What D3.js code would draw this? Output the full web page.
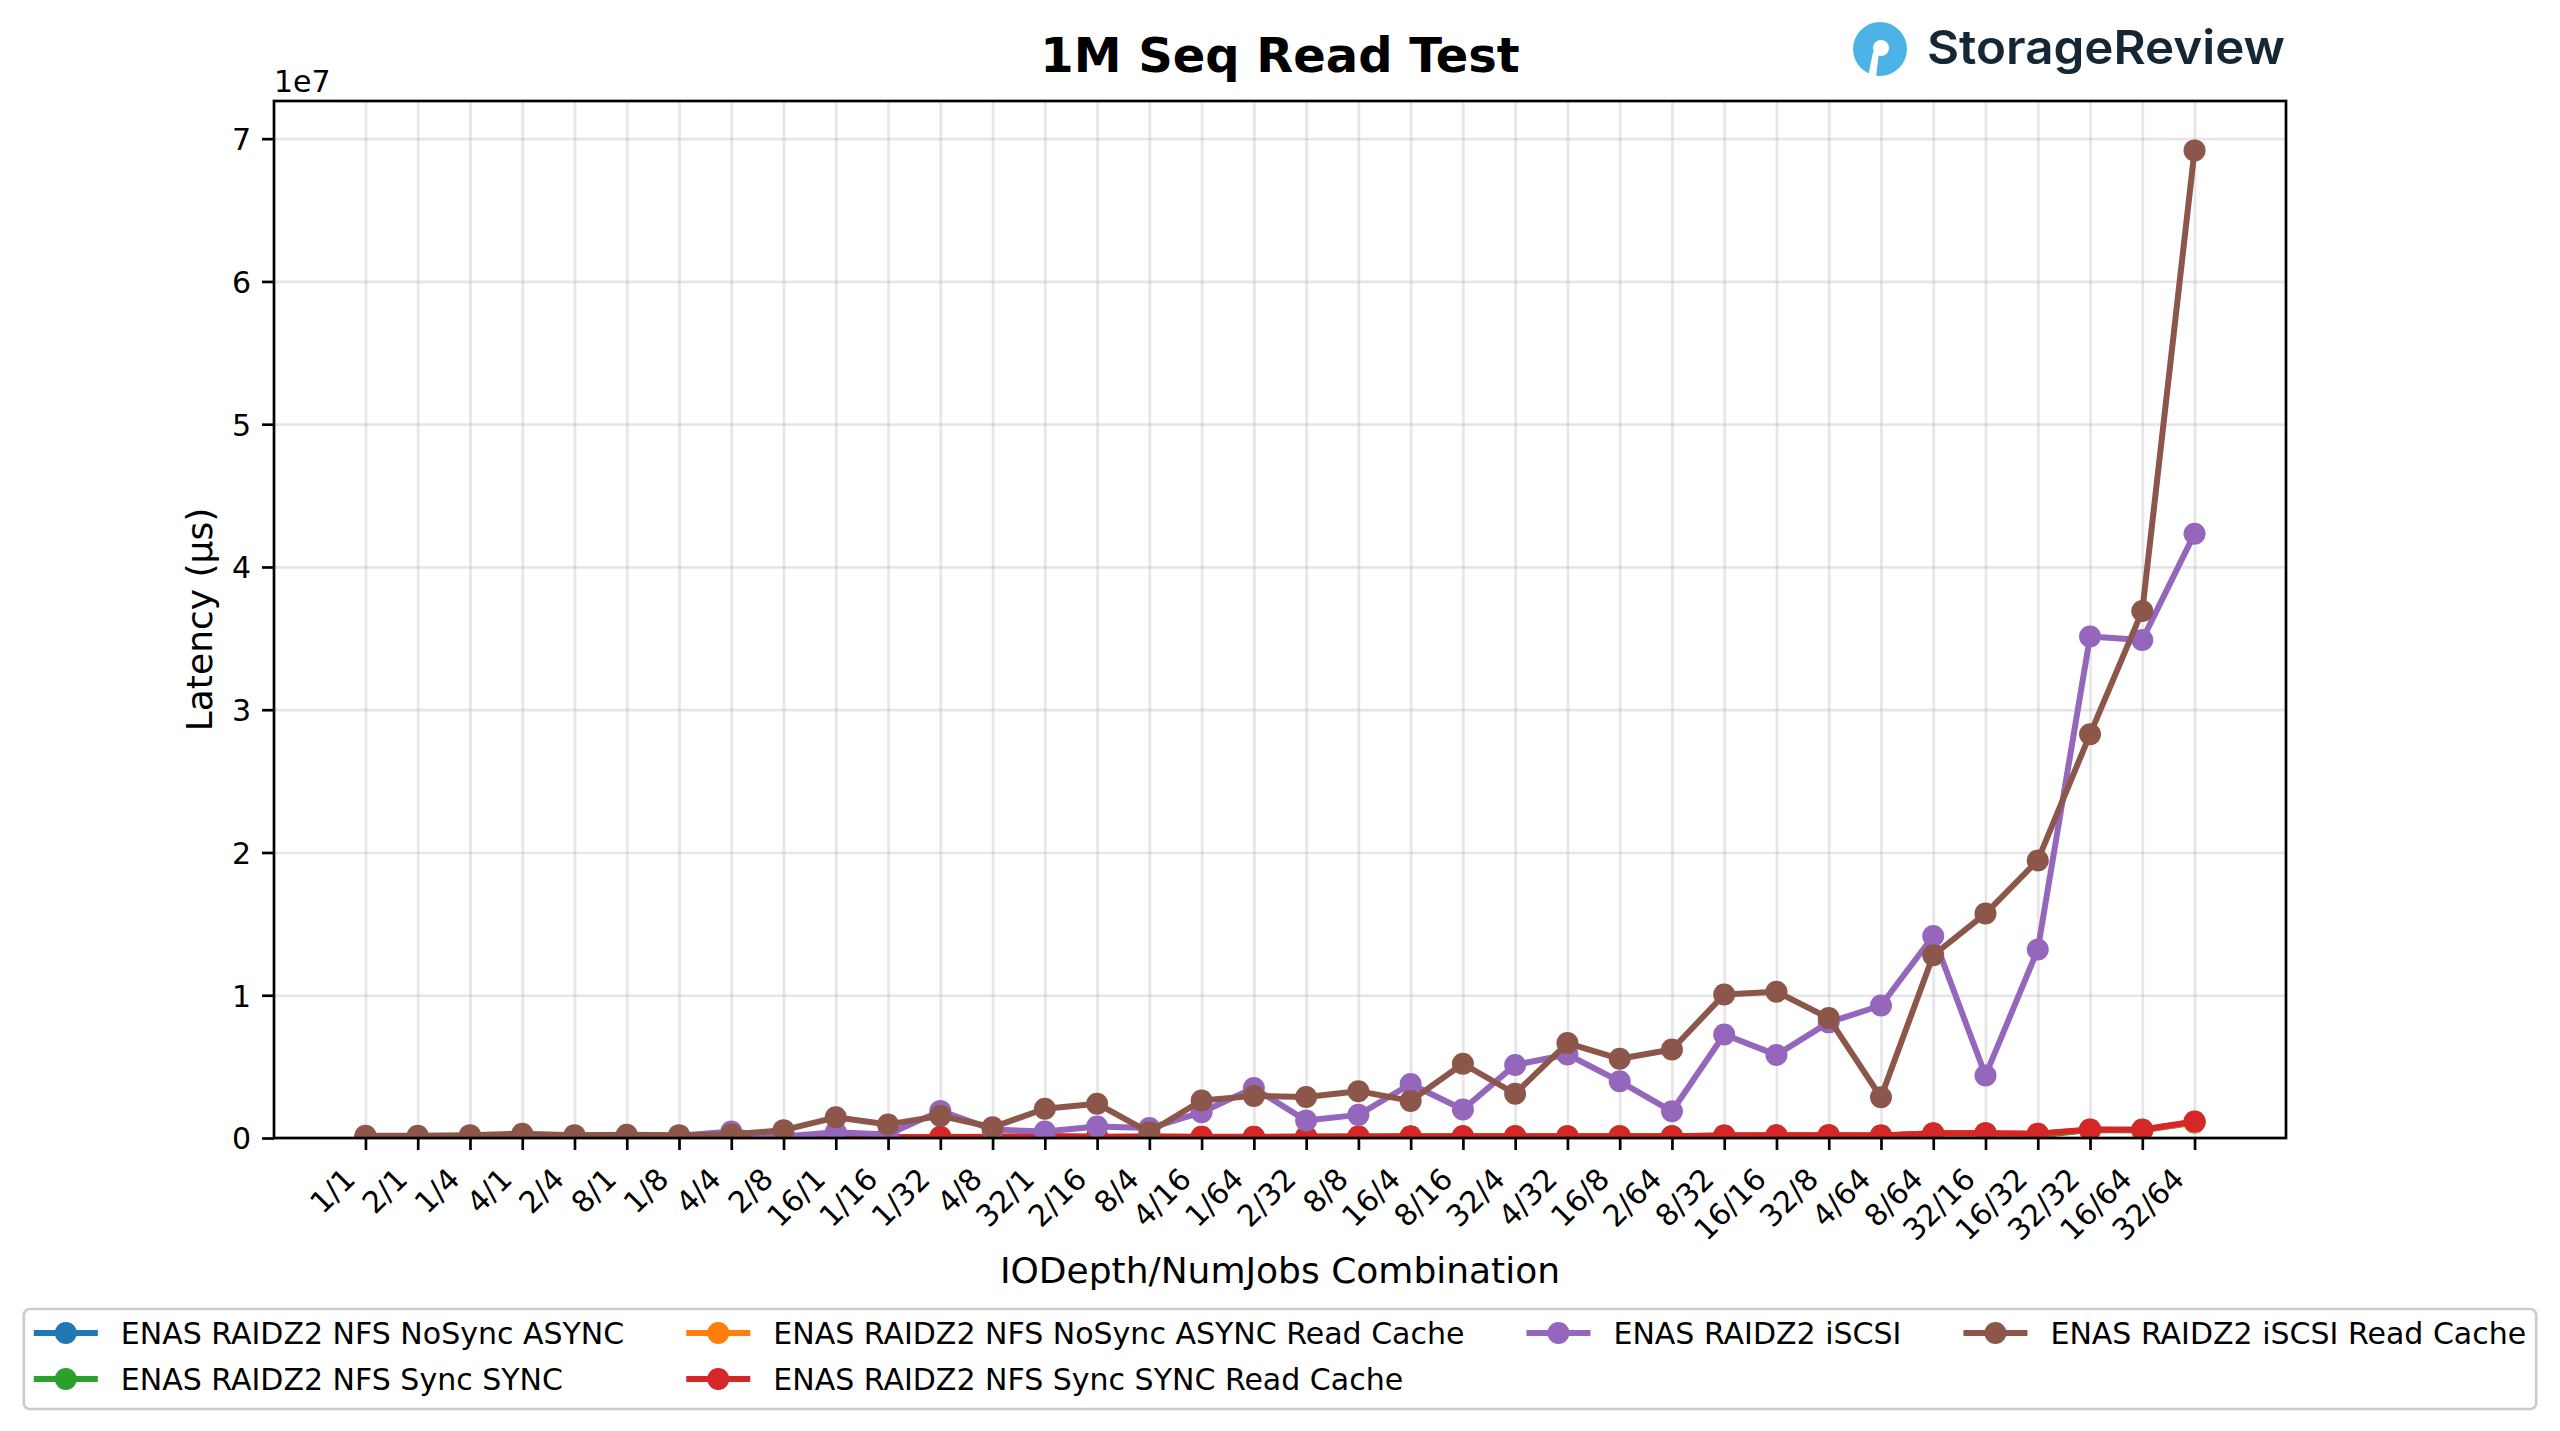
<!DOCTYPE html>
<html><head><meta charset="utf-8">
<script src="https://cdn.jsdelivr.net/npm/d3@7"></script>
<style>body{margin:0;background:#fff}svg{display:block}</style>
</head><body>
<script>
// ---------------- data ----------------
const categories = ["1/1","2/1","1/4","4/1","2/4","8/1","1/8","4/4","2/8","16/1","1/16","1/32","4/8","32/1","2/16","8/4","4/16","1/64","2/32","8/8","16/4","8/16","32/4","4/32","16/8","2/64","8/32","16/16","32/8","4/64","8/64","32/16","16/32","32/32","16/64","32/64"];

const seriesNames = [
  "ENAS RAIDZ2 NFS NoSync ASYNC",
  "ENAS RAIDZ2 NFS Sync SYNC",
  "ENAS RAIDZ2 NFS NoSync ASYNC Read Cache",
  "ENAS RAIDZ2 NFS Sync SYNC Read Cache",
  "ENAS RAIDZ2 iSCSI",
  "ENAS RAIDZ2 iSCSI Read Cache"
];
const seriesColors = ["#1f77b4","#2ca02c","#ff7f0e","#d62728","#9467bd","#8c564b"];

const nfsNoSyncAsync = [1.5e4,2e4,3e4,4e4,4e4,6e4,4e4,6e4,6e4,8e4,5e4,6e4,7e4,1.0e5,7e4,8e4,7e4,7e4,8e4,9e4,1.0e5,1.1e5,1.2e5,1.1e5,1.2e5,1.1e5,1.6e5,1.7e5,1.8e5,1.6e5,3.0e5,3.1e5,2.8e5,5.6e5,5.4e5,1.08e6];
const nfsSyncSync = [1.8e4,2.5e4,3.5e4,4.5e4,4.5e4,7e4,4.5e4,6.5e4,6.5e4,9e4,5.5e4,6.5e4,7.5e4,1.1e5,7.5e4,8.5e4,7.5e4,7.5e4,8.5e4,9.5e4,1.05e5,1.15e5,1.25e5,1.15e5,1.25e5,1.15e5,1.7e5,1.8e5,1.9e5,1.7e5,3.2e5,3.3e5,1.5e5,5.8e5,6.0e5,1.13e6];
const nfsNoSyncAsyncRC = [1.6e4,2.2e4,3.2e4,4.2e4,4.2e4,6.5e4,4.2e4,6.2e4,6.2e4,8.5e4,5.2e4,6.2e4,7.2e4,1.05e5,7.2e4,8.2e4,7.2e4,7.2e4,8.2e4,9.2e4,1.02e5,1.12e5,1.22e5,1.12e5,1.22e5,1.12e5,1.65e5,1.75e5,1.85e5,1.65e5,3.1e5,3.2e5,2.9e5,5.7e5,5.5e5,1.1e6];
const nfsSyncSyncRC = [2e4,3e4,4e4,5e4,5e4,8e4,5e4,7e4,7e4,1.0e5,6e4,7e4,8e4,1.2e5,8e4,9e4,8e4,8e4,9e4,1.0e5,1.1e5,1.2e5,1.3e5,1.2e5,1.3e5,1.2e5,1.8e5,1.9e5,2.0e5,1.8e5,3.3e5,3.4e5,3.0e5,6.0e5,5.8e5,1.16e6];
const iscsi = [1.0e5,1.0e5,1.5e5,2.0e5,1.5e5,1.5e5,1.5e5,4.5e5,1.0e5,4.0e5,2.5e5,1.9e6,6.0e5,4.5e5,8.0e5,7.0e5,1.8e6,3.5e6,1.22e6,1.62e6,3.78e6,2.0e6,5.12e6,5.85e6,3.97e6,1.87e6,7.25e6,5.82e6,8.1e6,9.28e6,1.415e7,4.38e6,1.32e7,3.513e7,3.489e7,4.233e7];
const iscsiRC = [1.5e5,1.5e5,2.0e5,3.0e5,2.0e5,2.3e5,2.0e5,2.5e5,5.5e5,1.45e6,9.5e5,1.55e6,7.5e5,2.05e6,2.4e6,4.0e5,2.63e6,2.95e6,2.87e6,3.28e6,2.6e6,5.2e6,3.1e6,6.65e6,5.55e6,6.2e6,1.005e7,1.025e7,8.4e6,2.85e6,1.28e7,1.572e7,1.944e7,2.828e7,3.692e7,6.918e7];

const seriesValues = [nfsNoSyncAsync, nfsSyncSync, nfsNoSyncAsyncRC, nfsSyncSyncRC, iscsi, iscsiRC];

const yTicks = [0,1e7,2e7,3e7,4e7,5e7,6e7,7e7];
const yTickLabels = ["0","1","2","3","4","5","6","7"];

const titleText = "1M Seq Read Test";
const xLabelText = "IODepth/NumJobs Combination";
const yLabelText = "Latency (µs)";
const offsetText = "1e7";

// ---------------- layout ----------------
const W = 2560, H = 1431;
const L = 274, R = 2286, T = 101, B = 1138;
const FONT = "'DejaVu Sans', sans-serif";
const LW = 6, MR = 11;
const TF = 30;

const svg = d3.select("body").append("svg").attr("width", W).attr("height", H);
svg.append("rect").attr("width", W).attr("height", H).attr("fill", "#fff");

const x = d3.scaleLinear().domain([-1.75, categories.length - 1 + 1.75]).range([L, R]);
const yMax = d3.max(seriesValues.flat()) * 1.05;
const y = d3.scaleLinear().domain([0, yMax]).range([B, T]);

// grid
const grid = svg.append("g");
grid.append("g").attr("transform", `translate(0,${B})`)
  .call(d3.axisBottom(x).tickValues(d3.range(categories.length)).tickSize(-(B - T)).tickFormat(""))
  .call(g => g.select(".domain").remove())
  .call(g => g.selectAll("line").attr("stroke", "#b0b0b0").attr("stroke-opacity", 0.32).attr("stroke-width", 2.7));
grid.append("g").attr("transform", `translate(${L},0)`)
  .call(d3.axisLeft(y).tickValues(yTicks).tickSize(-(R - L)).tickFormat(""))
  .call(g => g.select(".domain").remove())
  .call(g => g.selectAll("line").attr("stroke", "#b0b0b0").attr("stroke-opacity", 0.32).attr("stroke-width", 2.7));

// clip
svg.append("defs").append("clipPath").attr("id", "clip")
  .append("rect").attr("x", L).attr("y", T).attr("width", R - L).attr("height", B - T);

const plot = svg.append("g").attr("clip-path", "url(#clip)");
const line = d3.line().x((d, i) => x(i)).y(d => y(d));
seriesValues.forEach((vals, si) => {
  const g = plot.append("g");
  g.append("path").datum(vals).attr("d", line).attr("fill", "none")
    .attr("stroke", seriesColors[si]).attr("stroke-width", LW).attr("stroke-linejoin", "round").attr("stroke-linecap", "round");
  g.selectAll("circle").data(vals).join("circle")
    .attr("cx", (d, i) => x(i)).attr("cy", d => y(d)).attr("r", MR).attr("fill", seriesColors[si]);
});

// axes
const xAxis = svg.append("g").attr("transform", `translate(0,${B})`)
  .call(d3.axisBottom(x).tickValues(d3.range(categories.length)).tickSize(12).tickFormat(i => categories[i]));
xAxis.select(".domain").remove();
xAxis.selectAll("line").attr("stroke", "#000").attr("stroke-width", 2.7);
xAxis.selectAll("text")
  .attr("font-family", FONT).attr("font-size", TF).attr("fill", "#000")
  .attr("text-anchor", "end").attr("dy", null).attr("y", null)
  .attr("transform", "translate(-9,43) rotate(-45)");

const yAxis = svg.append("g").attr("transform", `translate(${L},0)`)
  .call(d3.axisLeft(y).tickValues(yTicks).tickSize(12).tickPadding(11).tickFormat((d, i) => yTickLabels[i]));
yAxis.select(".domain").remove();
yAxis.selectAll("line").attr("stroke", "#000").attr("stroke-width", 2.7);
yAxis.selectAll("text").attr("font-family", FONT).attr("font-size", TF).attr("fill", "#000")
  .attr("dy", "0.36em");

// frame
svg.append("rect").attr("x", L).attr("y", T).attr("width", R - L).attr("height", B - T)
  .attr("fill", "none").attr("stroke", "#000").attr("stroke-width", 2.7);

// texts
svg.append("text").attr("x", (L + R) / 2).attr("y", 72).attr("text-anchor", "middle")
  .attr("font-family", FONT).attr("font-weight", "bold").attr("font-size", 48).text(titleText);
svg.append("text").attr("x", (L + R) / 2).attr("y", 1283).attr("text-anchor", "middle")
  .attr("font-family", FONT).attr("font-size", 36).text(xLabelText);
svg.append("text").attr("transform", `translate(212,${(T + B) / 2}) rotate(-90)`).attr("text-anchor", "middle")
  .attr("font-family", FONT).attr("font-size", 36).text(yLabelText);
svg.append("text").attr("x", L).attr("y", 92).attr("font-family", FONT).attr("font-size", TF).text(offsetText);

// logo
const logo = svg.append("g");
logo.append("circle").attr("cx", 1880).attr("cy", 49).attr("r", 27).attr("fill", "#4db3e6");
logo.append("circle").attr("cx", 1881).attr("cy", 48).attr("r", 8).attr("fill", "#fff");
logo.append("path").attr("d", "M1873,52 L1879,52 L1876,77 L1868,77 Z").attr("fill", "#fff");
logo.append("text").attr("x", 1927).attr("y", 64).attr("font-family", "Inter, 'Open Sans', sans-serif")
  .attr("font-weight", 600).attr("font-size", 47).attr("fill", "#152634")
  .attr("textLength", 358).attr("lengthAdjust", "spacingAndGlyphs").text("StorageReview");

// legend
const LF = 30;
const legend = svg.append("g");
const cols = [[0, 1], [2, 3], [4], [5]];
const meas = svg.append("text").attr("font-family", FONT).attr("font-size", LF).attr("visibility", "hidden");
const colW = cols.map(c => d3.max(c, si => { meas.text(seriesNames[si]); return meas.node().getComputedTextLength(); }));
meas.remove();
const handleLen = 64, pad = 23, colSp = 62, bpad = 10;
const totalW = 2 * bpad + d3.sum(colW, w => handleLen + pad + w) + colSp * (cols.length - 1);
const lx0 = (L + R) / 2 - totalW / 2;
const rowY = [1333, 1379];
legend.append("rect").attr("x", lx0).attr("y", 1309).attr("width", totalW).attr("height", 100)
  .attr("rx", 6).attr("fill", "#fff").attr("fill-opacity", 0.8).attr("stroke", "#cccccc").attr("stroke-width", 2.7);
let cx = lx0 + bpad;
cols.forEach((c, ci) => {
  c.forEach((si, ri) => {
    const yy = rowY[ri];
    legend.append("line").attr("x1", cx).attr("x2", cx + handleLen).attr("y1", yy).attr("y2", yy)
      .attr("stroke", seriesColors[si]).attr("stroke-width", LW);
    legend.append("circle").attr("cx", cx + handleLen / 2).attr("cy", yy).attr("r", MR).attr("fill", seriesColors[si]);
    legend.append("text").attr("x", cx + handleLen + pad).attr("y", yy).attr("dy", "0.35em")
      .attr("font-family", FONT).attr("font-size", LF).text(seriesNames[si]);
  });
  cx += handleLen + pad + colW[ci] + colSp;
});
</script>
</body></html>
